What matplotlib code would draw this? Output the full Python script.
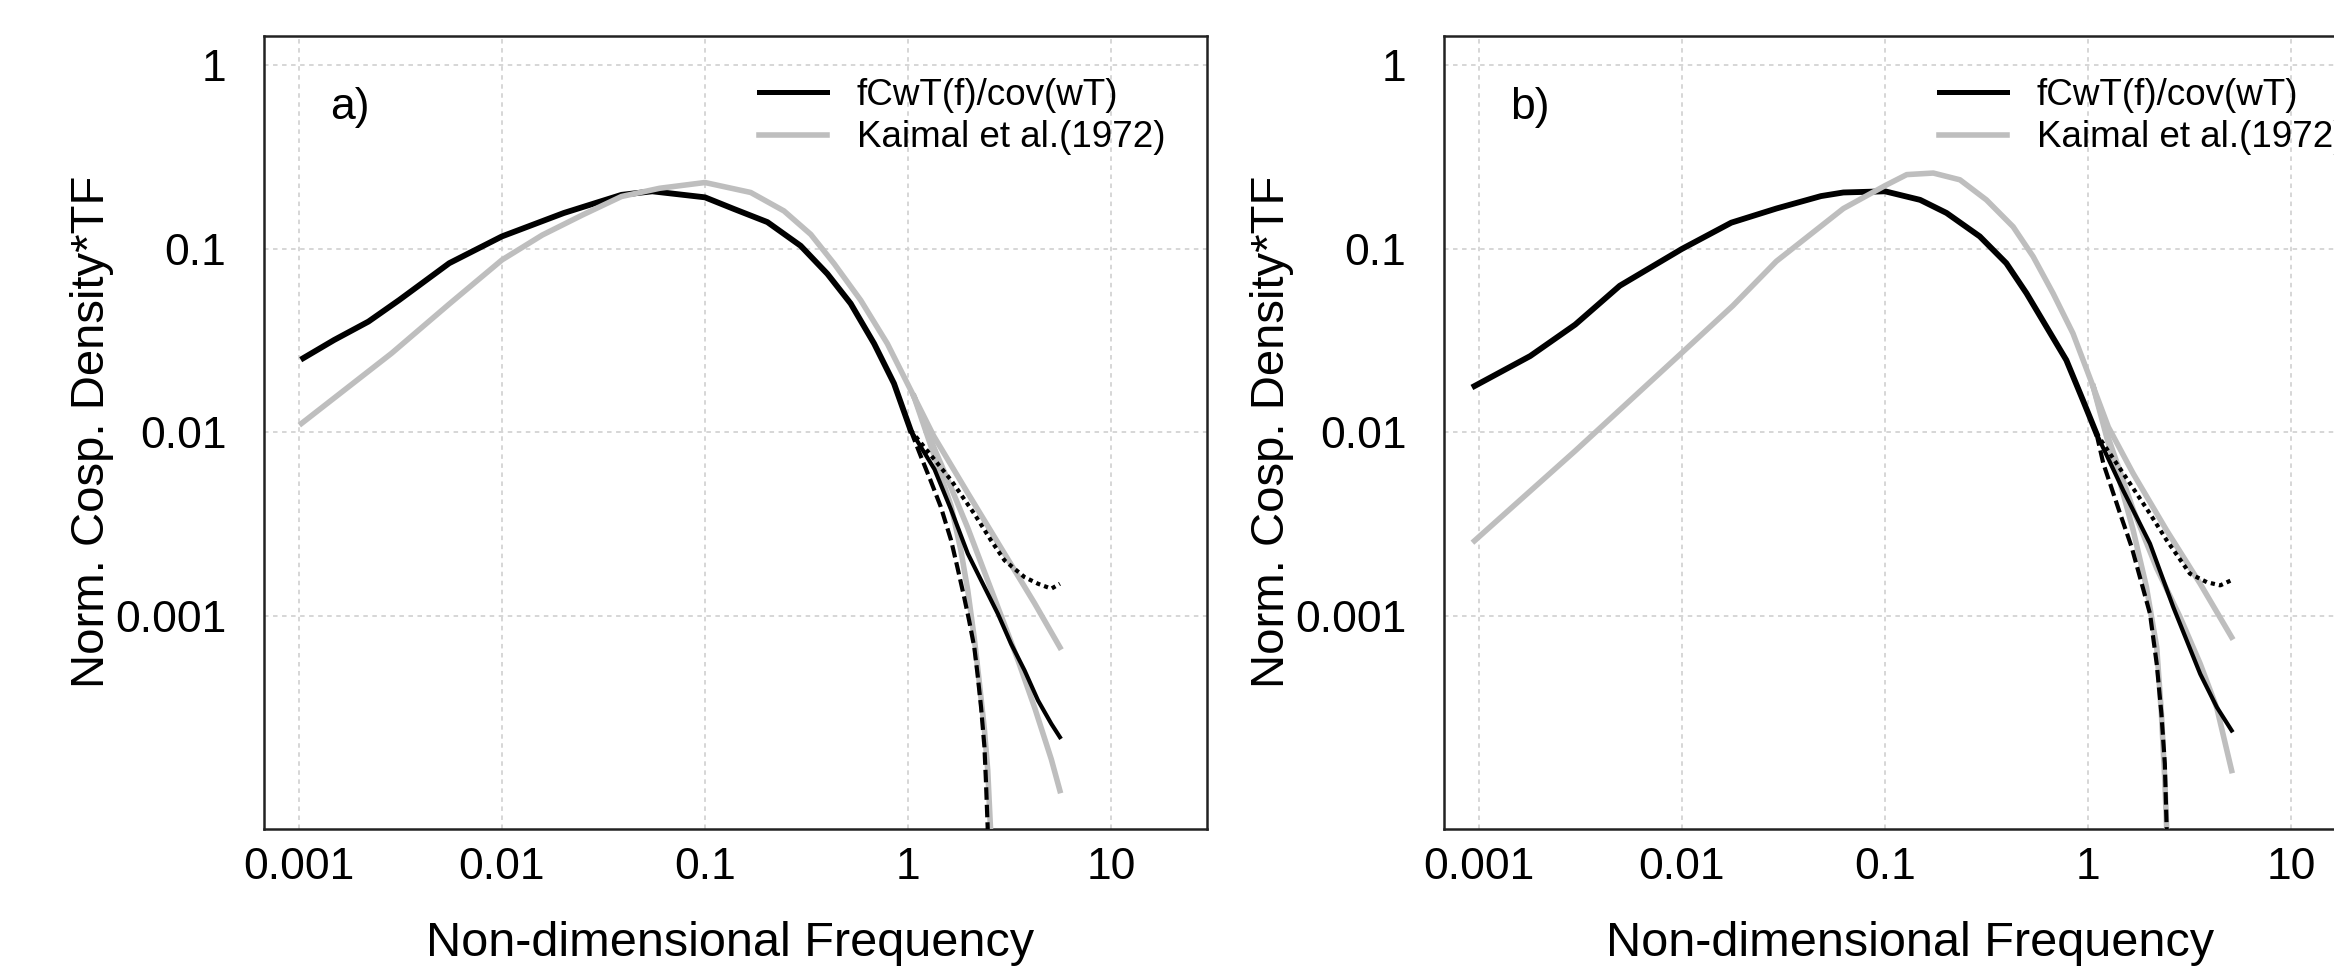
# Normalised w'T' cospectra vs Kaimal et al. (1972), two sites
import matplotlib.pyplot as plt
from matplotlib.lines import Line2D
from matplotlib.ticker import NullLocator

plt.rcParams['font.family'] = ['Liberation Sans', 'DejaVu Sans']

# ---- panel a) ----
# measured cospectrum (all transfer functions agree below f ~ 1)
fa_obs = [0.00105, 0.00149, 0.0022, 0.00312, 0.0055, 0.01, 0.0202, 0.0388, 0.055, 0.1,
          0.139, 0.203, 0.296, 0.401, 0.522, 0.681, 0.853, 1.03]
ca_obs = [0.0254, 0.0319, 0.0402, 0.0527, 0.0836, 0.117, 0.157, 0.197, 0.206, 0.191,
          0.165, 0.140, 0.104, 0.0731, 0.0504, 0.0305, 0.0185, 0.0103]
# high frequency part, three transfer functions
fa_obs_1 = [1.35, 1.63, 1.97, 2.38, 2.77, 3.22, 3.75, 4.37, 5.08, 5.6]
ca_obs_1 = [0.00631, 0.0038, 0.00219, 0.00144, 0.00103, 0.000706, 0.000506, 0.000347, 0.000259, 0.000219]
fa_obs_2 = [1.16, 1.29, 1.45, 1.63, 1.75, 1.89, 2.0, 2.12, 2.2, 2.29, 2.38, 2.42, 2.47, 2.5]
ca_obs_2 = [0.00736, 0.0055, 0.00394, 0.00259, 0.00185, 0.00127, 0.000946, 0.000678, 0.000484,
            0.000319, 0.000193, 0.000127, 6.92e-5, 3.63e-5]
fa_obs_3 = [1.63, 2.12, 2.56, 2.99, 3.75, 4.37, 5.08, 5.6]
ca_obs_3 = [0.0055, 0.00361, 0.00259, 0.00201, 0.00163, 0.0015, 0.00141, 0.0015]

# Kaimal model
fa_kai = [0.00103, 0.00286, 0.0055, 0.01, 0.0158, 0.0249, 0.0388, 0.0598, 0.1, 0.168,
          0.245, 0.332, 0.433, 0.585, 0.791, 1.07]
ca_kai = [0.0112, 0.0270, 0.0501, 0.0871, 0.119, 0.153, 0.193, 0.214, 0.230, 0.203,
          0.161, 0.120, 0.0830, 0.0525, 0.0305, 0.0157]
fa_kai_1 = [1.34, 1.63, 1.97, 2.38, 2.88, 3.48, 4.21, 5.08, 5.6]
ca_kai_1 = [0.00832, 0.00501, 0.00302, 0.00174, 0.001, 0.000575, 0.000316, 0.000166, 0.000112]
fa_kai_2 = [1.34, 1.63, 1.82, 1.97, 2.12, 2.24, 2.38, 2.47, 2.55, 2.59]
ca_kai_2 = [0.00759, 0.00398, 0.00229, 0.00138, 0.000759, 0.000447, 0.00024, 0.000145, 6.92e-5, 3.55e-5]
fa_kai_3 = [1.34, 1.97, 2.88, 4.21, 5.6]
ca_kai_3 = [0.00955, 0.00468, 0.00234, 0.00117, 0.000676]

# ---- panel b) ----
fb_obs = [0.000951, 0.00179, 0.00298, 0.00494, 0.01, 0.0175, 0.0292, 0.0484, 0.0624, 0.1,
          0.149, 0.201, 0.293, 0.396, 0.498, 0.624, 0.782, 0.944, 1.1]
cb_obs = [0.0179, 0.0261, 0.0387, 0.063, 0.1, 0.139, 0.166, 0.194, 0.203, 0.206,
          0.185, 0.157, 0.117, 0.0836, 0.0573, 0.0377, 0.0248, 0.015, 0.00989]
fb_obs_1 = [1.49, 2.02, 2.63, 3.57, 4.31, 5.1]
cb_obs_1 = [0.00484, 0.00248, 0.00112, 0.000484, 0.000319, 0.000238]
fb_obs_2 = [1.19, 1.44, 1.64, 2.02, 2.18, 2.3, 2.39, 2.44, 2.47]
cb_obs_2 = [0.00678, 0.00361, 0.00238, 0.00103, 0.00055, 0.000293, 0.000157, 7.06e-5, 3.55e-5]
fb_obs_3 = [1.55, 2.02, 2.44, 3.18, 3.85, 4.48, 5.1]
cb_obs_3 = [0.00562, 0.00361, 0.00259, 0.0017, 0.00153, 0.00147, 0.00157]

fb_kai = [0.000951, 0.00298, 0.01, 0.0178, 0.0292, 0.0624, 0.1, 0.128, 0.173, 0.234,
          0.316, 0.428, 0.537, 0.673, 0.843, 1.06]
cb_kai = [0.00257, 0.00794, 0.0272, 0.049, 0.0857, 0.166, 0.221, 0.254, 0.259, 0.238,
          0.185, 0.132, 0.0908, 0.0573, 0.0347, 0.0178]
fb_kai_1 = [1.26, 1.67, 2.18, 2.84, 3.57, 4.31, 5.1]
cb_kai_1 = [0.00933, 0.0038, 0.00182, 0.000989, 0.00055, 0.000316, 0.000144]
fb_kai_2 = [1.26, 1.38, 1.67, 1.94, 2.18, 2.3, 2.39, 2.44, 2.47]
cb_kai_2 = [0.00871, 0.00631, 0.00293, 0.00144, 0.000678, 0.000293, 0.000127, 7.06e-5, 3.55e-5]
fb_kai_3 = [1.26, 1.67, 2.44, 3.57, 5.1]
cb_kai_3 = [0.0107, 0.00597, 0.00293, 0.0015, 0.000767]

x_ticks = [0.001, 0.01, 0.1, 1, 10]
x_labels = ['0.001', '0.01', '0.1', '1', '10']
y_ticks = [0.001, 0.01, 0.1, 1]
y_labels = ['0.001', '0.01', '0.1', '1']

GRAY = '#BEBEBE'
W, H = 2334, 966


def draw_panel(ax, obs, obs_tails, kai, kai_tails, tag):
    f, c = obs
    ax.plot(f, c, color='black', lw=4.2, zorder=3)
    kf, kc = kai
    ax.plot(kf, kc, color=GRAY, lw=4, zorder=4)
    # Kaimal tails join the last point of the main curve
    for tf, tc in kai_tails:
        ax.plot(kf[-1:] + tf, kc[-1:] + tc, color=GRAY, lw=4, zorder=4)
    styles = ['-', (0, (3, 1.2)), (0, (1, 1))]
    for (tf, tc), ls in zip(obs_tails, styles):
        ax.plot(f[-1:] + tf, c[-1:] + tc, color='black', lw=3, ls=ls, zorder=5)

    ax.set_xscale('log')
    ax.set_yscale('log')
    ax.set_xlim(6.73e-4, 29.7)
    ax.set_ylim(6.92e-5, 1.445)
    ax.set_xticks(x_ticks)
    ax.set_xticklabels(x_labels)
    ax.set_yticks(y_ticks)
    ax.set_yticklabels(y_labels)
    ax.xaxis.set_minor_locator(NullLocator())
    ax.yaxis.set_minor_locator(NullLocator())
    ax.tick_params(axis='x', length=0, pad=13, labelsize=32)
    ax.tick_params(axis='y', length=0, pad=27, labelsize=32)
    ax.grid(True, color='#D3D3D3', ls=(0, (2.5, 2.5)), lw=1.3)
    ax.set_axisbelow(True)
    for s in ax.spines.values():
        s.set_color('#222222')
        s.set_linewidth(1.8)
    ax.text(0.07, 0.91, tag, transform=ax.transAxes, fontsize=32, ha='left', va='center')

    handles = [Line2D([], [], color='black', lw=3.6),
               Line2D([], [], color=GRAY, lw=4)]
    ax.legend(handles, ['fCwT(f)/cov(wT)', 'Kaimal et al.(1972)'],
              loc='upper left', bbox_to_anchor=(0.525, 0.947), frameon=False,
              fontsize=26.5, handlelength=1.85, handletextpad=0.8,
              labelspacing=0.2, borderpad=0, borderaxespad=0)


fig = plt.figure(figsize=(W / 100, H / 100), dpi=100)
ax_a = fig.add_axes([264 / W, 1 - 829 / H, 943 / W, 793 / H])
ax_b = fig.add_axes([1444 / W, 1 - 829 / H, 943 / W, 793 / H])

draw_panel(ax_a, (fa_obs, ca_obs),
           [(fa_obs_1, ca_obs_1), (fa_obs_2, ca_obs_2), (fa_obs_3, ca_obs_3)],
           (fa_kai, ca_kai),
           [(fa_kai_1, ca_kai_1), (fa_kai_2, ca_kai_2), (fa_kai_3, ca_kai_3)], 'a)')
draw_panel(ax_b, (fb_obs, cb_obs),
           [(fb_obs_1, cb_obs_1), (fb_obs_2, cb_obs_2), (fb_obs_3, cb_obs_3)],
           (fb_kai, cb_kai),
           [(fb_kai_1, cb_kai_1), (fb_kai_2, cb_kai_2), (fb_kai_3, cb_kai_3)], 'b)')

for x0 in (264, 1444):
    fig.text((x0 + 466) / W, 1 - 943 / H, 'Non-dimensional Frequency',
             fontsize=35, ha='center', va='center')
    fig.text((x0 - 172) / W, 1 - 432 / H, 'Norm. Cosp. Density*TF',
             fontsize=34, rotation=90, ha='center', va='center')

fig.savefig('out.png', dpi=100)
